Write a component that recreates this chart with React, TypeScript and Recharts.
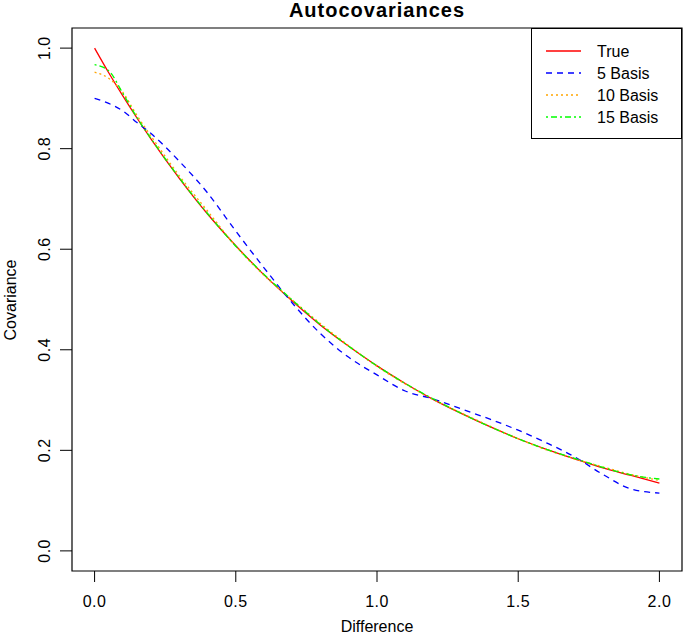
import React from "react";
import {
  LineChart,
  Line,
  XAxis,
  YAxis,
  Legend,
  ReferenceArea,
} from "recharts";

// lag values (Difference)
const lags = [
  0, 0.05, 0.1, 0.15, 0.2, 0.3, 0.4, 0.5, 0.6, 0.7, 0.8, 0.9, 1.0, 1.1, 1.2,
  1.3, 1.4, 1.5, 1.6, 1.7, 1.8, 1.9, 2.0,
];

const trueCov = [
  1.0, 0.951, 0.905, 0.861, 0.819, 0.741, 0.67, 0.607, 0.549, 0.497, 0.449,
  0.407, 0.368, 0.333, 0.301, 0.273, 0.247, 0.223, 0.202, 0.183, 0.165, 0.15,
  0.135,
];

const basis5 = [
  0.9, 0.89, 0.875, 0.852, 0.83, 0.775, 0.712, 0.636, 0.563, 0.493, 0.432,
  0.385, 0.35, 0.318, 0.302, 0.282, 0.262, 0.24, 0.215, 0.187, 0.152, 0.123,
  0.115,
];

const basis10 = [
  0.952, 0.94, 0.912, 0.866, 0.825, 0.746, 0.676, 0.606, 0.548, 0.499, 0.452,
  0.408, 0.367, 0.332, 0.301, 0.274, 0.248, 0.223, 0.201, 0.183, 0.167, 0.152,
  0.14,
];

const basis15 = [
  0.967, 0.955, 0.91, 0.862, 0.82, 0.742, 0.671, 0.606, 0.55, 0.499, 0.45,
  0.407, 0.368, 0.333, 0.302, 0.273, 0.247, 0.223, 0.202, 0.184, 0.166, 0.151,
  0.143,
];

const xTicks = [0, 0.5, 1, 1.5, 2];
const yTicks = [0, 0.2, 0.4, 0.6, 0.8, 1];

const series = [
  { key: "trueCov", name: "True", color: "#FF0000", dash: undefined },
  { key: "basis5", name: "5 Basis", color: "#0000FF", dash: "6 5" },
  { key: "basis10", name: "10 Basis", color: "#FFA500", dash: "2 3" },
  { key: "basis15", name: "15 Basis", color: "#00FF00", dash: "2 3 6 3" },
];

const data = lags.map((x, i) => ({
  x,
  trueCov: trueCov[i],
  basis5: basis5[i],
  basis10: basis10[i],
  basis15: basis15[i],
}));

const FONT = '"Liberation Sans", Arial, sans-serif';

const YTick = (props: any) => {
  const { x, y, payload } = props;
  const bx = x - 8;
  return (
    <text
      x={bx}
      y={y}
      transform={`rotate(-90 ${bx} ${y})`}
      textAnchor="middle"
      fontSize={16}
      letterSpacing={0.5}
      fill="#000"
      fontFamily={FONT}>
      {Number(payload.value).toFixed(1)}
    </text>
  );
};

const LegendBox = () => (
  <svg width={151} height={111} style={{ display: "block" }}>
    <rect x={0.5} y={0.5} width={150} height={110} fill="#fff" stroke="#000" />
    {series.map((s, i) => {
      const cy = 23 + i * 22;
      return (
        <g key={s.key}>
          <line
            x1={15}
            x2={50}
            y1={cy}
            y2={cy}
            stroke={s.color}
            strokeWidth={1.3}
            strokeDasharray={s.dash}
          />
          <text
            x={66}
            y={cy}
            dominantBaseline="central"
            fontSize={16}
            fill="#000"
            fontFamily={FONT}>
            {s.name}
          </text>
        </g>
      );
    })}
  </svg>
);

const App = () => {
  return (
    <div
      style={{
        position: "absolute",
        left: 0,
        top: 0,
        width: 685,
        height: 634,
        background: "#fff",
        fontFamily: FONT,
      }}>
      <LineChart
        width={685}
        height={634}
        data={data}
        margin={{ top: 28, right: 3, bottom: 0, left: 0 }}>
        <XAxis
          dataKey="x"
          type="number"
          domain={[-0.08, 2.08]}
          allowDataOverflow
          ticks={xTicks}
          tickFormatter={(v: number) => v.toFixed(1)}
          axisLine={false}
          tickLine={{ stroke: "#000" }}
          tickSize={11}
          tickMargin={14}
          height={63}
          tick={{ fill: "#000", fontSize: 16, fontFamily: FONT, letterSpacing: 0.5 }}
          label={{
            value: "Difference",
            position: "insideBottom",
            offset: 2,
            fill: "#000",
            fontSize: 16,
            fontFamily: FONT,
          }}
        />
        <YAxis
          type="number"
          domain={[-0.04, 1.04]}
          allowDataOverflow
          ticks={yTicks}
          axisLine={false}
          tickLine={{ stroke: "#000" }}
          tickSize={12}
          width={72}
          tick={<YTick />}
        />
        <ReferenceArea
          x1={-0.08}
          x2={2.08}
          y1={-0.04}
          y2={1.04}
          fill="none"
          stroke="#000"
          strokeWidth={1.2}
          ifOverflow="visible"
        />
        {series.map((s) => (
          <Line
            key={s.key}
            dataKey={s.key}
            name={s.name}
            type="monotone"
            stroke={s.color}
            strokeWidth={1.3}
            strokeDasharray={s.dash}
            dot={false}
            isAnimationActive={false}
          />
        ))}
        <Legend
          layout="vertical"
          align="center"
          verticalAlign="middle"
          wrapperStyle={{ left: 531, top: 28, width: 151, height: 111 }}
          content={() => <LegendBox />}
        />
      </LineChart>
      <svg
        width={685}
        height={634}
        style={{ position: "absolute", left: 0, top: 0, pointerEvents: "none" }}>
        <text
          x={377}
          y={17}
          textAnchor="middle"
          fontSize={20}
          letterSpacing={1}
          fontWeight="bold"
          fill="#000"
          fontFamily={FONT}>
          Autocovariances
        </text>
        <text
          x={16}
          y={300}
          transform="rotate(-90 16 300)"
          textAnchor="middle"
          fontSize={16}
          fill="#000"
          fontFamily={FONT}>
          Covariance
        </text>
      </svg>
    </div>
  );
};

export default App;
